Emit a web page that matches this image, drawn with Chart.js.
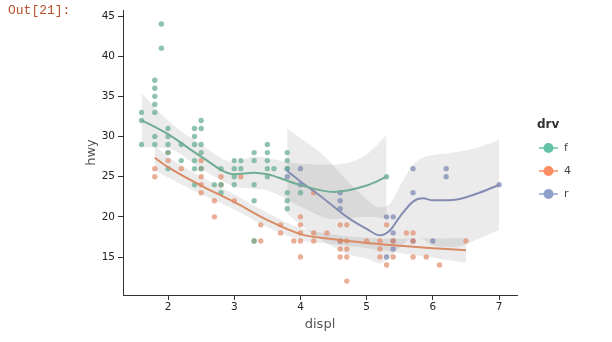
<!DOCTYPE html>
<html>
<head>
<meta charset="utf-8">
<script src="https://cdn.jsdelivr.net/npm/chart.js@4.4.0/dist/chart.umd.min.js"></script>
<style>
    html, body { margin: 0; padding: 0; background: #fff; }
    #wrap { position: relative; width: 612px; height: 342px; }
    #prompt { position: absolute; left: 8px; top: 3px; font: 13px "Liberation Mono", "DejaVu Sans Mono", monospace; color: #b5502c; }
    canvas { position: absolute; left: 0; top: 0; }
</style>
</head>
<body>
<div id="wrap">
    <canvas id="grafico" width="612" height="342"></canvas>
    <div id="prompt">Out[21]:</div>
</div>
<script>
// pontos (displ, hwy) por tipo de tração
const fDispl = [1.6, 1.6, 1.6, 1.8, 1.8, 1.8, 1.8, 1.8, 1.8, 1.8, 1.9, 1.9, 2.0, 2.0, 2.0, 2.0, 2.0,
    2.2, 2.2, 2.4, 2.4, 2.4, 2.4, 2.4, 2.4, 2.5, 2.5, 2.5, 2.5, 2.5, 2.7, 2.8, 2.8, 2.8,
    3.0, 3.0, 3.0, 3.0, 3.1, 3.1, 3.3, 3.3, 3.3, 3.3, 3.3, 3.5, 3.5, 3.5, 3.5, 3.5, 3.6,
    3.8, 3.8, 3.8, 3.8, 3.8, 3.8, 4.0, 5.3];
const fHwy = [29, 32, 33, 29, 30, 33, 34, 35, 36, 37, 41, 44, 26, 28, 29, 30, 31,
    27, 29, 24, 26, 27, 29, 30, 31, 26, 28, 29, 31, 32, 24, 23, 24, 26,
    24, 25, 26, 27, 26, 27, 17, 22, 24, 27, 28, 25, 26, 27, 28, 29, 26,
    21, 22, 23, 26, 27, 28, 23, 25];

const qDispl = [1.8, 1.8, 2.0, 2.0, 2.2, 2.5, 2.5, 2.5, 2.5, 2.5, 2.7, 2.7, 2.8, 2.8, 3.0, 3.1,
    3.3, 3.4, 3.4, 3.7, 3.7, 3.9, 4.0, 4.0, 4.0, 4.0, 4.0, 4.2, 4.2, 4.2, 4.4,
    4.6, 4.6, 4.6, 4.6, 4.7, 4.7, 4.7, 4.7, 4.7, 5.0, 5.2, 5.2, 5.2, 5.3, 5.3,
    5.4, 5.4, 5.6, 5.7, 5.7, 5.7, 5.9, 6.1, 6.5];
const qHwy = [25, 26, 27, 28, 26, 23, 24, 25, 26, 27, 20, 22, 24, 25, 22, 25,
    17, 17, 19, 18, 19, 17, 15, 17, 18, 19, 20, 17, 18, 23, 18,
    15, 16, 17, 19, 12, 15, 16, 17, 19, 17, 15, 16, 17, 14, 19,
    15, 17, 18, 15, 17, 18, 15, 14, 17];

const rDispl = [3.8, 3.8, 4.0, 4.0, 4.6, 4.6, 4.6, 4.6, 5.3, 5.3, 5.4, 5.4, 5.4, 5.4,
    5.7, 5.7, 5.7, 6.0, 6.2, 6.2, 7.0];
const rHwy = [25, 26, 24, 26, 17, 21, 22, 23, 15, 20, 16, 17, 18, 20,
    17, 23, 26, 17, 25, 26, 24];

// curvas suavizadas (linha, limite superior, limite inferior)
const fSuaveX = [1.6, 2.0, 2.5, 3.0, 3.3, 3.5, 4.0, 4.5, 5.0, 5.3];
const fSuave = [32.05, 30.3, 27.5, 25.3, 25.5, 25.3, 23.95, 23.1, 23.9, 25.0];
const fSup = [35.4, 32.0, 29.0, 26.8, 27.5, 27.3, 26.6, 26.5, 27.8, 30.2];
const fInf = [28.7, 28.5, 26.0, 23.8, 23.5, 23.3, 21.3, 19.7, 20.0, 19.8];

const qSuaveX = [1.8, 2.0, 2.5, 3.0, 3.5, 4.0, 4.5, 5.0, 5.5, 6.0, 6.5];
const qSuave = [27.35, 26.2, 23.9, 21.85, 19.6, 17.85, 17.2, 16.75, 16.4, 16.1, 15.85];
const qSup = [28.9, 27.5, 25.0, 22.8, 20.5, 18.6, 17.8, 17.4, 17.3, 17.3, 17.4];
const qInf = [25.8, 24.9, 22.8, 20.9, 18.7, 17.1, 16.6, 16.1, 15.5, 14.9, 14.3];

const rSuaveX = [3.8, 4.0, 4.3, 4.7, 5.0, 5.2, 5.35, 5.5, 5.7, 5.85, 6.0, 6.3, 6.7, 7.0];
const rSuave = [25.7, 24.4, 22.6, 20.0, 18.5, 17.7, 18.3, 20.0, 21.9, 22.3, 22.05, 22.1, 23.0, 24.0];
const rSup = [31.0, 29.8, 28.0, 24.6, 22.2, 21.2, 21.6, 23.8, 26.5, 27.4, 27.7, 28.0, 28.7, 29.6];
const rInf = [20.4, 19.0, 17.2, 15.4, 14.8, 14.2, 15.0, 16.2, 17.3, 17.2, 16.4, 16.2, 17.3, 18.4];

const xTicks = [2, 3, 4, 5, 6, 7];
const yTicks = [15, 20, 25, 30, 35, 40, 45];
const grupos = ['f', '4', 'r'];

const corPonto = ['rgba(100, 172, 146, 0.72)', 'rgba(224, 134, 100, 0.68)', 'rgba(124, 134, 178, 0.72)'];
const corLinha = ['#70ad93', '#d98b66', '#848cb2'];
const corLegenda = ['#66c2a5', '#fc8d62', '#8da0cb'];
const corFaixa = 'rgba(0, 0, 0, 0.08)';

function pares(xs, ys) {
    return xs.map((x, i) => ({ x: x, y: ys[i] }));
}

const pontos = [pares(fDispl, fHwy), pares(qDispl, qHwy), pares(rDispl, rHwy)];
const curvas = [
    { x: fSuaveX, y: fSuave, sup: fSup, inf: fInf },
    { x: qSuaveX, y: qSuave, sup: qSup, inf: qInf },
    { x: rSuaveX, y: rSuave, sup: rSup, inf: rInf }
];

const datasets = [];

// faixas de confiança
curvas.forEach((c) => {
    datasets.push({
        data: pares(c.x, c.sup),
        borderWidth: 0,
        pointRadius: 0,
        backgroundColor: corFaixa,
        fill: '+1',
        cubicInterpolationMode: 'monotone',
        order: 3
    });
    datasets.push({
        data: pares(c.x, c.inf),
        borderWidth: 0,
        pointRadius: 0,
        fill: false,
        cubicInterpolationMode: 'monotone',
        order: 3
    });
});

// pontos
pontos.forEach((p, i) => {
    datasets.push({
        data: p,
        showLine: false,
        pointRadius: 2.7,
        pointBorderWidth: 0,
        pointBackgroundColor: corPonto[i],
        order: 2
    });
});

// linhas suavizadas
curvas.forEach((c, i) => {
    datasets.push({
        data: pares(c.x, c.y),
        borderColor: corLinha[i],
        borderWidth: 2,
        pointRadius: 0,
        fill: false,
        cubicInterpolationMode: 'monotone',
        order: 1
    });
});

const legendaDrv = {
    id: 'legendaDrv',
    afterDraw(chart) {
        const { ctx } = chart;
        ctx.save();
        ctx.fillStyle = '#333';
        ctx.textBaseline = 'middle';
        ctx.textAlign = 'left';
        ctx.font = 'bold 12px "DejaVu Sans"';
        ctx.fillText('drv', 537, 125);
        ctx.font = '11px "DejaVu Sans"';
        grupos.forEach((g, i) => {
            const y = 148 + i * 23;
            ctx.strokeStyle = corLegenda[i];
            ctx.lineWidth = 1.5;
            ctx.beginPath();
            ctx.moveTo(539, y);
            ctx.lineTo(558, y);
            ctx.stroke();
            ctx.fillStyle = corLegenda[i];
            ctx.beginPath();
            ctx.arc(548.5, y, 5, 0, Math.PI * 2);
            ctx.fill();
            ctx.fillStyle = '#444';
            ctx.fillText(g, 564, y);
        });
        ctx.restore();
    }
};

new Chart(document.getElementById('grafico').getContext('2d'), {
    type: 'line',
    data: { datasets: datasets },
    options: {
        responsive: false,
        animation: false,
        layout: { padding: { left: 80, right: 95, top: 10, bottom: 6 } },
        plugins: {
            legend: { display: false },
            tooltip: { enabled: false }
        },
        scales: {
            x: {
                type: 'linear',
                min: 1.32,
                max: 7.27,
                afterBuildTicks: (axis) => { axis.ticks = xTicks.map(v => ({ value: v })); },
                afterFit: (axis) => { axis.height = 41; },
                grid: { drawOnChartArea: false, drawTicks: true, tickLength: 5, color: '#333' },
                border: { display: true, color: '#333', width: 1 },
                ticks: { color: '#222', padding: 1, maxRotation: 0, font: { size: 10.5, family: 'DejaVu Sans' } },
                title: { display: true, text: 'displ', color: '#555', font: { size: 13, family: 'DejaVu Sans' } }
            },
            y: {
                type: 'linear',
                min: 10.27,
                max: 45.75,
                afterBuildTicks: (axis) => { axis.ticks = yTicks.map(v => ({ value: v })); },
                afterFit: (axis) => { axis.width = 43; },
                grid: { drawOnChartArea: false, drawTicks: true, tickLength: 5, color: '#333' },
                border: { display: true, color: '#333', width: 1 },
                ticks: { color: '#222', padding: 3, font: { size: 10.5, family: 'DejaVu Sans' } },
                title: { display: true, text: 'hwy', color: '#555', font: { size: 13, family: 'DejaVu Sans' } }
            }
        }
    },
    plugins: [legendaDrv]
});
</script>
</body>
</html>
